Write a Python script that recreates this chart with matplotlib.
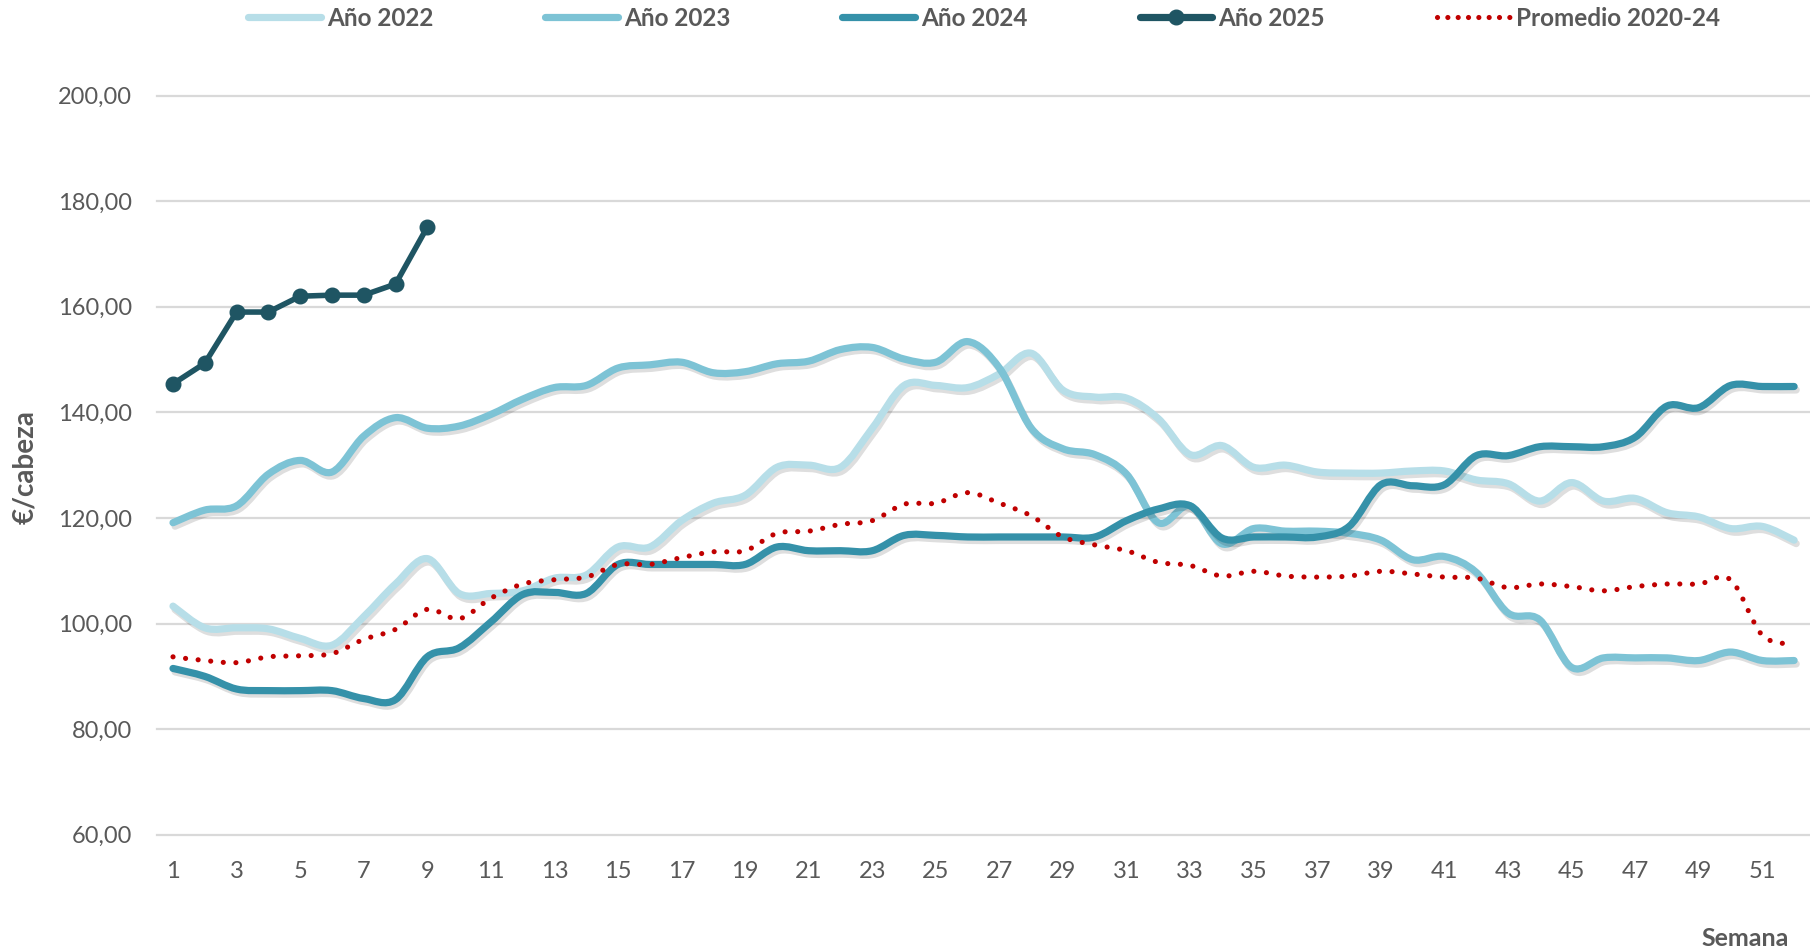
import numpy as np
import matplotlib.pyplot as plt
from matplotlib.path import Path
from matplotlib.patches import PathPatch
from matplotlib.lines import Line2D
import matplotlib.patheffects as pe

plt.rcParams['font.family'] = ['Lato', 'DejaVu Sans']

# weekly price, euros per head
semanas = list(range(1, 53))
semanas_2025 = list(range(1, 10))

anio_2022 = [103.3, 99.2, 99.2, 99.0, 97.2, 95.9, 101.3, 107.5, 112.3, 105.7,
             105.7, 106.2, 108.6, 109.2, 114.5, 114.5, 119.5, 122.8, 124.3, 129.6,
             130.0, 129.6, 137.0, 145.1, 145.1, 144.7, 147.3, 151.2, 144.2, 142.9,
             142.7, 138.8, 132.0, 133.7, 129.6, 130.0, 128.7, 128.5, 128.5, 128.9,
             128.9, 127.2, 126.5, 123.2, 126.7, 123.2, 123.7, 121.0, 120.2, 118.0,
             118.4, 115.8]
anio_2023 = [119.1, 121.5, 122.3, 128.3, 130.9, 128.7, 135.5, 139.0, 137.0, 137.4,
             139.6, 142.5, 144.7, 145.1, 148.4, 149.0, 149.5, 147.5, 147.7, 149.2,
             149.7, 151.9, 152.3, 150.1, 149.5, 153.4, 148.4, 137.0, 133.1, 132.0,
             128.3, 119.1, 122.3, 115.1, 118.0, 117.5, 117.5, 117.1, 115.8, 112.1,
             112.7, 109.7, 102.0, 100.7, 91.7, 93.5, 93.5, 93.5, 93.0, 94.6,
             93.0, 93.0]
anio_2024 = [91.5, 90.0, 87.6, 87.3, 87.3, 87.3, 85.8, 85.6, 93.7, 95.4,
             100.3, 105.5, 105.9, 105.7, 111.2, 111.2, 111.2, 111.2, 111.2, 114.5,
             113.8, 113.8, 113.8, 116.7, 116.7, 116.4, 116.4, 116.4, 116.4, 116.4,
             119.5, 121.7, 122.3, 116.2, 116.4, 116.4, 116.4, 118.4, 126.3, 126.1,
             126.3, 131.8, 131.8, 133.5, 133.5, 133.5, 135.3, 141.2, 140.9, 145.1,
             144.9, 144.9]
anio_2025 = [145.4, 149.3, 159.0, 159.0, 162.0, 162.2, 162.2, 164.3, 175.1]
promedio = [93.7, 93.0, 92.6, 93.7, 93.9, 94.3, 97.0, 98.9, 102.7, 100.9,
            104.8, 107.5, 108.3, 108.8, 111.2, 111.2, 112.5, 113.6, 113.8, 117.1,
            117.5, 118.8, 119.5, 122.6, 122.8, 124.8, 122.8, 120.4, 116.4, 114.9,
            113.8, 111.6, 111.0, 109.0, 109.9, 109.0, 108.8, 109.0, 109.9, 109.4,
            108.8, 108.6, 106.8, 107.5, 107.0, 106.2, 107.0, 107.5, 107.5, 108.3,
            97.8, 96.1]

c2022 = '#B7DEE8'
c2023 = '#7DC3D5'
c2024 = '#3591A9'
c2025 = '#1F5563'
cprom = '#C00000'
gris = '#595959'


def curva(x, y):
    # smooth line like excel does it: a cubic bezier through every point
    x = np.asarray(x, float)
    y = np.asarray(y, float)
    n = len(x)
    verts = [(x[0], y[0])]
    codes = [Path.MOVETO]
    for i in range(n - 1):
        a = max(i - 1, 0)
        b = min(i + 2, n - 1)
        verts.append((x[i] + (x[i + 1] - x[a]) / 6, y[i] + (y[i + 1] - y[a]) / 6))
        verts.append((x[i + 1] - (x[b] - x[i]) / 6, y[i + 1] - (y[b] - y[i]) / 6))
        verts.append((x[i + 1], y[i + 1]))
        codes += [Path.CURVE4] * 3
    return Path(verts, codes)


sombra = [pe.Stroke(offset=(1.5, -2.5), foreground='black', alpha=0.13), pe.Normal()]

fig = plt.figure(figsize=(18.1, 9.5), dpi=100)
ax = fig.add_axes([0.0868, 0.1213, 0.9132, 0.7781])

for serie, color in [(anio_2022, c2022), (anio_2023, c2023), (anio_2024, c2024)]:
    p = PathPatch(curva(semanas, serie), fill=False, edgecolor=color, lw=5.2,
                  capstyle='round', joinstyle='round', path_effects=sombra, zorder=3)
    ax.add_patch(p)

ax.plot(semanas_2025, anio_2025, color=c2025, lw=4.0, marker='o', markersize=10.5,
        solid_joinstyle='round', zorder=4)

p = PathPatch(curva(semanas, promedio), fill=False, edgecolor=cprom, lw=3.7,
              linestyle=(0, (0.01, 2.45)), capstyle='round', zorder=5)
ax.add_patch(p)

ax.set_xlim(0.5, 52.5)
ax.set_ylim(60, 200)
ax.set_yticks(range(60, 201, 20))
ax.set_yticklabels([f'{v},00' for v in range(60, 201, 20)])
ax.set_xticks(range(1, 52, 2))
ax.set_xticklabels([str(s) for s in range(1, 52, 2)])
ax.tick_params(axis='both', length=0, labelsize=17, labelcolor=gris)
ax.tick_params(axis='y', pad=18)
ax.tick_params(axis='x', pad=19)
ax.grid(axis='y', color='#D9D9D9', lw=1.6)
for l in ax.get_ygridlines():
    l.set_clip_on(False)
ax.set_axisbelow(True)
for s in ax.spines.values():
    s.set_visible(False)

fig.text(25 / 1810, 0.508, '€/cabeza', rotation=90, ha='center', va='center',
         fontsize=20, fontweight='bold', color=gris)
fig.text(1789 / 1810, 1 - 938 / 950, 'Semana', ha='right', va='center',
         fontsize=18, fontweight='bold', color=gris)

handles = [
    Line2D([], [], color=c2022, lw=5.2, solid_capstyle='round'),
    Line2D([], [], color=c2023, lw=5.2, solid_capstyle='round'),
    Line2D([], [], color=c2024, lw=5.2, solid_capstyle='round'),
    Line2D([], [], color=c2025, lw=5.2, marker='o', markersize=10.5, solid_capstyle='round'),
    Line2D([], [], color=cprom, lw=3.7, linestyle=(0, (0.01, 2.0)), dash_capstyle='round'),
]
labels = ['Año 2022', 'Año 2023', 'Año 2024', 'Año 2025', 'Promedio 2020-24']
leg = fig.legend(handles, labels, loc='center', bbox_to_anchor=(0.5436, 1 - 18.5 / 950),
                 ncol=5, frameon=False, prop=dict(weight='bold', size=17.5),
                 handlelength=3.0, handletextpad=0.25, columnspacing=4.6)
for t in leg.get_texts():
    t.set_color(gris)

fig.savefig('out.png', dpi=100)
